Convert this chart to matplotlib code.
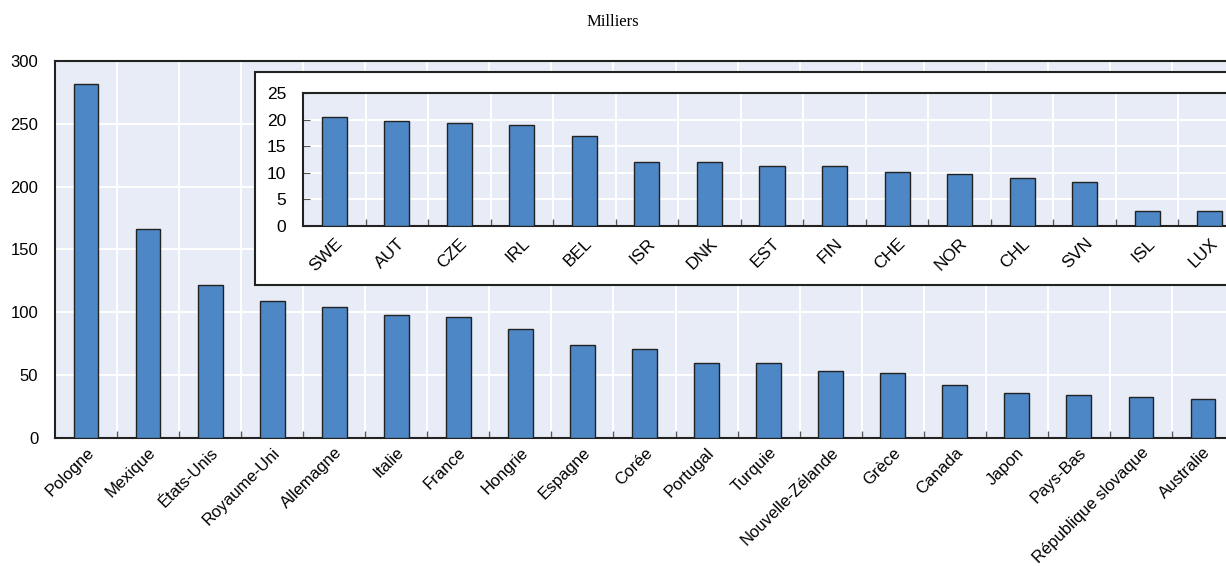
import matplotlib
matplotlib.use("Agg")
import matplotlib.pyplot as plt
from matplotlib.patches import Rectangle
from matplotlib.ticker import FixedLocator

plt.rcParams['font.family'] = ['Liberation Sans Narrow', 'Liberation Sans', 'DejaVu Sans']

# main panel
pays = ["Pologne", "Mexique", "États-Unis", "Royaume-Uni", "Allemagne", "Italie",
        "France", "Hongrie", "Espagne", "Corée", "Portugal", "Turquie",
        "Nouvelle-Zélande", "Grèce", "Canada", "Japon", "Pays-Bas",
        "République slovaque", "Australie"]
valeurs = [281.5, 166.5, 121.7, 109.0, 104.2, 98.0, 96.5, 86.7, 74.0, 70.8,
           59.8, 59.8, 53.3, 51.7, 42.2, 35.8, 34.2, 32.6, 31.0]
yticks_main = [0, 50, 100, 150, 200, 250, 300]

# inset panel
codes = ["SWE", "AUT", "CZE", "IRL", "BEL", "ISR", "DNK", "EST", "FIN", "CHE",
         "NOR", "CHL", "SVN", "ISL", "LUX"]
valeurs_petits = [20.4, 19.7, 19.3, 18.9, 17.0, 12.0, 12.0, 11.3, 11.3, 10.2,
                  9.7, 9.0, 8.2, 2.9, 2.9]
yticks_inset = [0, 5, 10, 15, 20, 25]

BAR = "#4d87c6"
EDGE = "#222222"
BG = "#e8ecf6"
W, H = 1226, 566

fig = plt.figure(figsize=(12.26, 5.66), dpi=100)
fig.text(0.5, 1 - 22 / H, "Milliers", ha="center", va="center",
         fontsize=12, family=["Liberation Serif", "DejaVu Serif"])


def style_axes(ax, vals, ticks, lim, fs, xpad):
    n = len(vals)
    ax.set_facecolor(BG)
    ax.bar(range(n), vals, width=0.4, color=BAR, edgecolor=EDGE,
           linewidth=1.0, zorder=3)
    ax.set_xlim(-0.5, n - 0.5)
    ax.set_ylim(0, lim)
    ax.set_yticks(ticks)
    ax.yaxis.grid(True, color="white", linewidth=1.5, zorder=0)
    ax.xaxis.set_minor_locator(FixedLocator([i + 0.5 for i in range(n - 1)]))
    ax.xaxis.grid(True, which="minor", color="white", linewidth=1.5, zorder=0)
    ax.tick_params(axis="x", which="major", length=0, labelsize=fs, pad=xpad)
    ax.tick_params(axis="x", which="minor", length=5, direction="in",
                   color="#555555", width=1)
    ax.tick_params(axis="y", length=0, labelsize=fs, pad=12)
    for s in ax.spines.values():
        s.set_color("#222222")
        s.set_linewidth(1.5)
    ax.spines["right"].set_visible(False)


# main axes (runs past the right edge, like the reference crop)
ax = fig.add_axes([55 / W, 1 - 438 / H, 1179 / W, 377 / H])
style_axes(ax, valeurs, yticks_main, 300, 12, 5)
ax.set_xticks(range(len(pays)))
ax.set_xticklabels(pays, rotation=45, ha="right", rotation_mode="anchor")

# white inset box
box = Rectangle((255 / W, 1 - 285 / H), 1000 / W, 213 / H, transform=fig.transFigure,
                facecolor="white", edgecolor="#222222", linewidth=1.5, zorder=5)
fig.patches.append(box)

ax2 = fig.add_axes([303 / W, 1 - 226 / H, 938 / W, 133 / H])
ax2.set_zorder(10)
style_axes(ax2, valeurs_petits, yticks_inset, 25, 12.5, 7)
ax2.set_xticks(range(len(codes)))
ax2.set_xticklabels(codes, rotation=45, ha="right", rotation_mode="anchor")
ax2.tick_params(axis="y", length=5, direction="in", color="#555555", pad=12)

fig.savefig("out.png", dpi=100)
